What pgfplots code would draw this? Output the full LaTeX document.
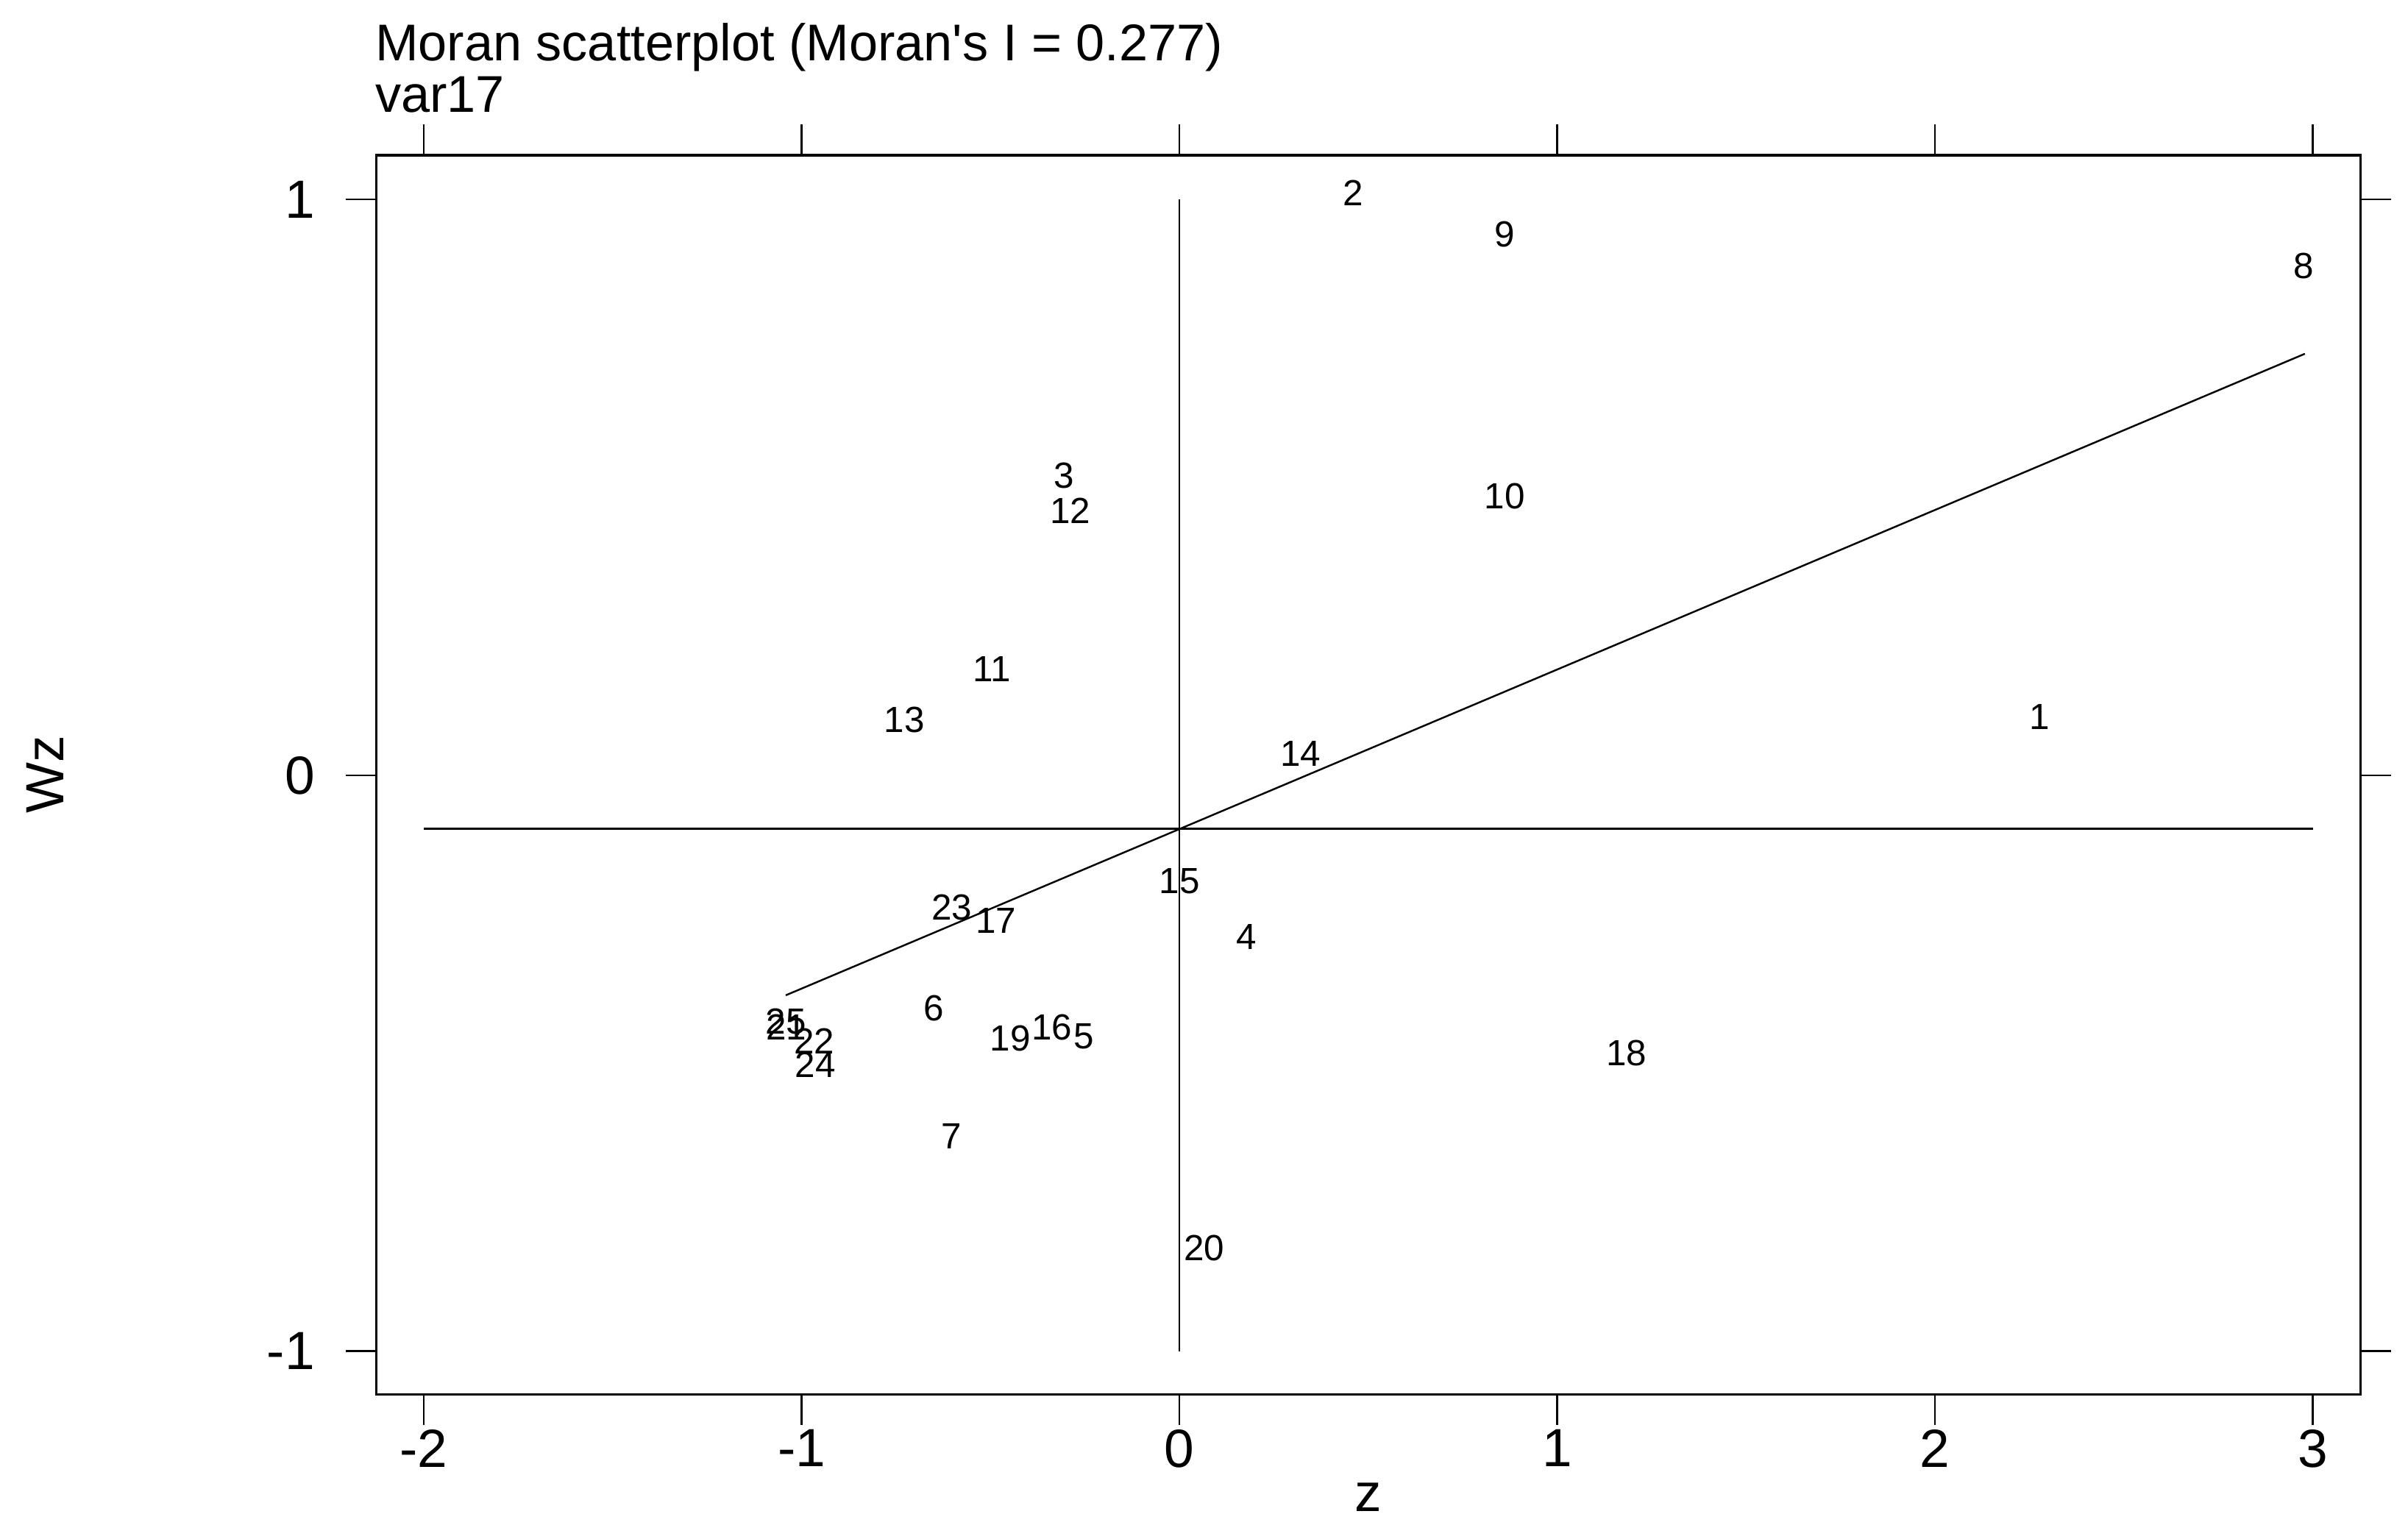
\documentclass[border=0pt]{standalone}
\usepackage{fontspec}
\setmainfont{Liberation Sans}
\usepackage{pgfplots}
\usepackage{pgfplotstable}
\pgfplotsset{compat=1.18}
\pgfplotstableread{
x y label
2.276 0.101 1
0.459 1.011 2
-0.305 0.520 3
0.178 -0.280 4
-0.252 -0.453 5
-0.651 -0.404 6
-0.604 -0.627 7
2.975 0.885 8
0.861 0.939 9
0.861 0.485 10
-0.496 0.184 11
-0.289 0.459 12
-0.728 0.096 13
0.321 0.037 14
0.000 -0.184 15
-0.338 -0.438 16
-0.486 -0.252 17
1.183 -0.483 18
-0.448 -0.457 19
0.065 -0.821 20
-1.041 -0.438 21
-0.967 -0.462 22
-0.602 -0.229 23
-0.964 -0.503 24
-1.042 -0.427 25
}\pts
\begin{document}
\begin{tikzpicture}
\begin{axis}[
  scale only axis, width=387.6pt, height=242.1pt,
  xmin=-2.126, xmax=3.126, ymin=-1.075, ymax=1.077,
  xtick={-2,-1,0,1,2,3}, xticklabels={-2,-1,0,1,2,3},
  ytick={-1,0,1}, yticklabels={-1,0,1},
  tick align=outside, tick pos=both,
  major tick length=6pt,
  axis line style={line width=0.5pt},
  every tick/.style={line width=0.35pt, black},
  ticklabel style={font=\fontsize{10.5}{12}\selectfont},
  xticklabel style={yshift=2.6pt},
  yticklabel style={xshift=-2.5pt},
  xlabel={z}, ylabel={Wz},
  xlabel style={at={(axis description cs:0.5,-0.0830)}, anchor=center, font=\fontsize{10.5}{12}\selectfont},
  ylabel style={at={(axis description cs:-0.1670,0.5)}, anchor=center, font=\fontsize{10.5}{12}\selectfont},
  clip=false,
]
\addplot[black, line width=0.35pt] coordinates {(-2,-0.093) (3,-0.093)};
\addplot[black, line width=0.35pt] coordinates {(0,-1) (0,1)};
\addplot[black, line width=0.35pt] coordinates {(-1.042,-0.382) (2.979,0.732)};
\addplot[only marks, mark=none, nodes near coords, point meta=explicit symbolic,
  every node near coord/.append style={anchor=center, inner sep=0pt, font=\fontsize{7.1}{8}\selectfont, text=black}]
  table[x=x, y=y, meta=label] {\pts};
\node[anchor=base west, inner sep=0pt, font=\fontsize{10.1}{12}\selectfont] at (axis description cs:-0.001,1.0760) {Moran scatterplot (Moran\textquotesingle s I = 0.277)};
\node[anchor=base west, inner sep=0pt, font=\fontsize{10.1}{12}\selectfont] at (axis description cs:-0.001,1.0345) {var17};
\end{axis}
\pgfresetboundingbox
\path[use as bounding box] ([shift={(-73.5pt,-28.2pt)}]current axis.south west) rectangle ([shift={(9.3pt,30.3pt)}]current axis.north east);
\end{tikzpicture}
\end{document}
